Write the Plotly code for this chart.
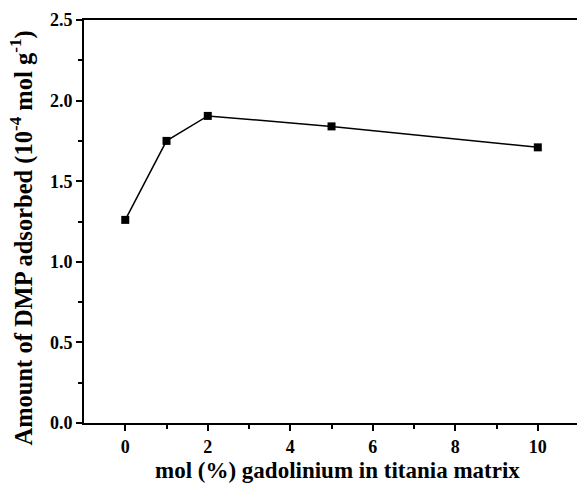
import plotly.graph_objects as go

# Gd doping level (mol %) and DMP adsorbed (1e-4 mol/g)
gd_mol_pct = [0, 1, 2, 5, 10]
dmp_adsorbed = [1.26, 1.75, 1.905, 1.84, 1.71]

x_ticks = [0, 2, 4, 6, 8, 10]
y_ticks = [0.0, 0.5, 1.0, 1.5, 2.0, 2.5]

x_title = "<b>mol (%) gadolinium in titania matrix</b>"
y_title = "<b>Amount of DMP adsorbed (10<sup>-4</sup> mol g<sup>-1</sup>)</b>"

font_family = "Liberation Serif"

fig = go.Figure()
fig.add_trace(go.Scatter(
    x=gd_mol_pct, y=dmp_adsorbed, mode="lines+markers",
    line=dict(color="black", width=1.5),
    marker=dict(symbol="square", size=8, color="black"),
    showlegend=False,
))

tick_font = dict(size=18, family=font_family, color="black", weight="bold")

fig.update_layout(
    width=577, height=484,
    margin=dict(l=84, r=0, t=20, b=61),
    paper_bgcolor="white", plot_bgcolor="white",
    font=dict(family=font_family, color="black"),
    xaxis=dict(
        range=[-1, 10.95],
        tickvals=x_ticks, ticktext=[str(v) for v in x_ticks],
        ticks="outside", ticklen=6, tickwidth=1.5, tickcolor="black",
        minor=dict(tickvals=[1, 3, 5, 7, 9], ticks="outside", ticklen=4, tickwidth=1.5, tickcolor="black"),
        showline=True, linecolor="black", linewidth=2, mirror=True,
        showgrid=False, zeroline=False,
        tickfont=tick_font,
    ),
    yaxis=dict(
        range=[0, 2.5],
        tickvals=y_ticks, ticktext=[f"{v:.1f}" for v in y_ticks],
        ticks="outside", ticklen=6, tickwidth=1.5, tickcolor="black",
        minor=dict(tickvals=[0.25, 0.75, 1.25, 1.75, 2.25], ticks="outside", ticklen=4, tickwidth=1.5, tickcolor="black"),
        showline=True, linecolor="black", linewidth=2,
        showgrid=False, zeroline=False,
        tickfont=tick_font,
    ),
    annotations=[
        dict(text=x_title, xref="paper", yref="paper", x=0.515, y=-0.119,
             xanchor="center", yanchor="middle", showarrow=False,
             font=dict(size=23, family=font_family, color="black")),
        dict(text=y_title, xref="paper", yref="paper", x=-0.126, y=0.46,
             xanchor="center", yanchor="middle", showarrow=False, textangle=-90,
             font=dict(size=24.5, family=font_family, color="black")),
    ],
)

fig.write_html("out.html")
